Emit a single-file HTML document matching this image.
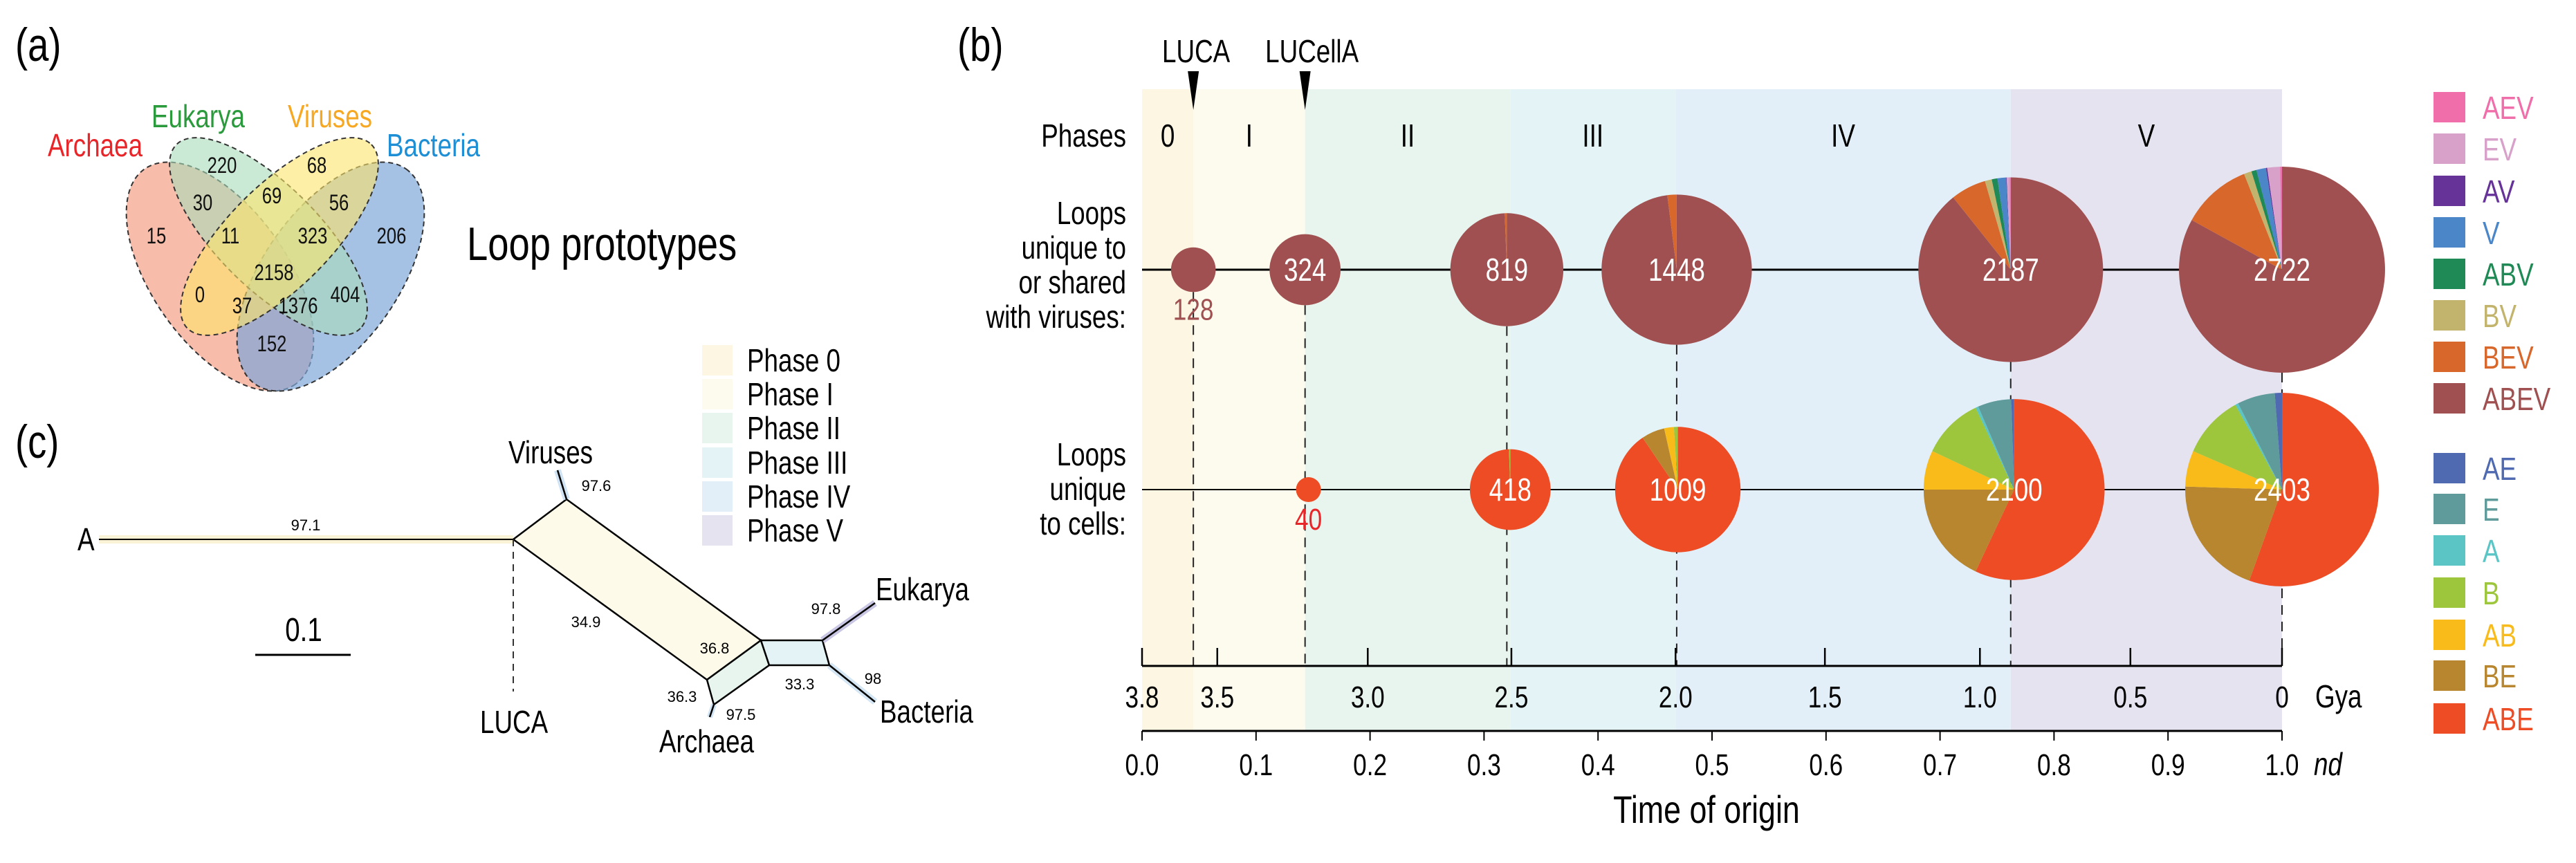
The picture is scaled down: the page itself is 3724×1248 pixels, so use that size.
<!DOCTYPE html>
<html><head><meta charset="utf-8"><style>
html,body{margin:0;padding:0;background:#fff;}
svg{display:block;}
text{font-family:"Liberation Sans Narrow","Liberation Sans",sans-serif;}
.serif{font-family:"Liberation Serif",serif;}
</style></head><body>
<svg id="fig" width="3724" height="1248" viewBox="0 0 3724 1248" xmlns="http://www.w3.org/2000/svg">
<text x="22" y="88" font-size="68">(a)</text>
<text x="1384" y="88" font-size="68">(b)</text>
<text x="22" y="662" font-size="68">(c)</text>

<g stroke="#333" stroke-width="2" stroke-dasharray="7,5">
 <ellipse cx="318" cy="400" rx="190" ry="98" transform="rotate(55 318 400)" fill="#f6a68d" fill-opacity="0.75"/>
 <ellipse cx="478" cy="400" rx="190" ry="98" transform="rotate(-55 478 400)" fill="#7fa7d9" fill-opacity="0.7"/>
 <ellipse cx="388" cy="342" rx="188" ry="74" transform="rotate(45 388 342)" fill="#a9dcb9" fill-opacity="0.6"/>
 <ellipse cx="404" cy="342" rx="188" ry="74" transform="rotate(-45 404 342)" fill="#fde56a" fill-opacity="0.6"/>
</g>
<g font-size="46">
 <text x="69" y="226" fill="#e8262a">Archaea</text>
 <text x="219" y="184" fill="#2a9a3d">Eukarya</text>
 <text x="416" y="184" fill="#f7a823">Viruses</text>
 <text x="559" y="226" fill="#1e8fd5">Bacteria</text>
</g>
<g font-size="32" text-anchor="middle" fill="#111">
 <text x="321" y="250">220</text><text x="458" y="250">68</text>
 <text x="293" y="304">30</text><text x="393" y="294">69</text><text x="490" y="304">56</text>
 <text x="226" y="352">15</text><text x="333" y="352">11</text><text x="452" y="352">323</text><text x="566" y="352">206</text>
 <text x="396" y="405">2158</text>
 <text x="289" y="437">0</text><text x="350" y="453">37</text><text x="431" y="453">1376</text><text x="499" y="437">404</text>
 <text x="393" y="508">152</text>
</g>
<text x="675" y="376" font-size="68">Loop prototypes</text>

<g font-size="46">
 <rect x="1015" y="499" width="44" height="44" fill="#fdf6e3"/><text x="1080" y="537">Phase 0</text>
 <rect x="1015" y="548" width="44" height="44" fill="#fdfbee"/><text x="1080" y="586">Phase I</text>
 <rect x="1015" y="597" width="44" height="44" fill="#e8f5ee"/><text x="1080" y="635">Phase II</text>
 <rect x="1015" y="647" width="44" height="44" fill="#e4f4f6"/><text x="1080" y="685">Phase III</text>
 <rect x="1015" y="696" width="44" height="44" fill="#e3eff8"/><text x="1080" y="734">Phase IV</text>
 <rect x="1015" y="745" width="44" height="44" fill="#e5e3f0"/><text x="1080" y="783">Phase V</text>
</g>

<g>
 <rect x="143" y="774" width="599" height="12" fill="#fbf3d6"/>
 <line x1="143" y1="780" x2="742" y2="780" stroke="#000" stroke-width="2"/>
 <text x="112" y="796" font-size="46">A</text>
 <polygon points="742,780 819,722 1100,926 1022,983" fill="#fdfaea" stroke="#000" stroke-width="2.5"/>
 <polygon points="1100,926 1112,962 1032,1019 1022,983" fill="#e8f5ee" stroke="#000" stroke-width="2.5"/>
 <polygon points="1100,926 1189,926 1199,962 1112,962" fill="#e3f3f6" stroke="#000" stroke-width="2.5"/>
 <line x1="742" y1="780" x2="742" y2="1000" stroke="#333" stroke-width="2" stroke-dasharray="10,8"/>
 <line x1="819" y1="722" x2="806" y2="680" stroke="#cfe3f4" stroke-width="10"/>
 <line x1="819" y1="722" x2="806" y2="680" stroke="#000" stroke-width="2.5"/>
 <line x1="1189" y1="926" x2="1265" y2="872" stroke="#c8c6e2" stroke-width="10"/>
 <line x1="1189" y1="926" x2="1265" y2="872" stroke="#000" stroke-width="2.5"/>
 <line x1="1199" y1="962" x2="1265" y2="1015" stroke="#d4e6f4" stroke-width="10"/>
 <line x1="1199" y1="962" x2="1265" y2="1015" stroke="#000" stroke-width="2.5"/>
 <line x1="1032" y1="1019" x2="1026" y2="1037" stroke="#cfe3f4" stroke-width="8"/>
 <line x1="1032" y1="1019" x2="1026" y2="1037" stroke="#000" stroke-width="2.5"/>
 <g font-size="46">
  <text x="735" y="670">Viruses</text>
  <text x="1266" y="868">Eukarya</text>
  <text x="1272" y="1045">Bacteria</text>
  <text x="953" y="1088">Archaea</text>
  <text x="694" y="1060">LUCA</text>
 </g>
 <g class="serif" font-size="22" text-anchor="middle">
  <text x="442" y="767">97.1</text><text x="862" y="710">97.6</text>
  <text x="847" y="907">34.9</text><text x="1033" y="945">36.8</text>
  <text x="986" y="1015">36.3</text><text x="1071" y="1041">97.5</text>
  <text x="1156" y="997">33.3</text><text x="1194" y="888">97.8</text>
  <text x="1262" y="989">98</text>
 </g>
 <text x="439" y="927" font-size="48" text-anchor="middle">0.1</text>
 <line x1="369" y1="947" x2="507" y2="947" stroke="#000" stroke-width="3"/>
</g>

<g id="panelb"></g>
</svg>
<script>
// ---- data ----
const phaseNames = ['0','I','II','III','IV','V'];
const phaseBounds = [0, 0.045, 0.143, 0.323, 0.468, 0.762, 1.0];
const phaseColors = ['#fdf6e3','#fdfbee','#e8f5ee','#e4f4f6','#e3eff8','#e5e3f0'];
const gyaTicks = [3.8, 3.5, 3.0, 2.5, 2.0, 1.5, 1.0, 0.5, 0];
// calibration of geological time to nd
const gyaCalib = [3.8, 3.5, 3.0, 2.5, 2.0, 1.5, 1.0, 0.5, 0];
const ndCalib = [0, 0.066, 0.198, 0.324, 0.468, 0.599, 0.735, 0.867, 1.0];
const ndTicks = [0.0,0.1,0.2,0.3,0.4,0.5,0.6,0.7,0.8,0.9,1.0];
const topTotals = [128, 324, 819, 1448, 2187, 2722];
const topTimes = [0.045, 0.143, 0.32, 0.469, 0.762, 1.0];
const topCats = ['ABEV','BEV','BV','ABV','V','AV','EV','AEV'];
const topColors = ['#a05050','#d8672b','#c3b46d','#1f8a55','#4a86c8','#663399','#d8a1c9','#f06ea9'];
const topFracs = [
 [1,0,0,0,0,0,0,0],
 [1,0,0,0,0,0,0,0],
 [0.994,0.006,0,0,0,0,0,0],
 [0.98,0.02,0,0,0,0,0,0],
 [0.893,0.062,0.012,0.01,0.015,0.001,0.005,0.002],
 [0.83,0.11,0.012,0.008,0.015,0.002,0.02,0.003]
];
const botTotals = [40, 418, 1009, 2100, 2403];
const botTimes = [0.146, 0.323, 0.47, 0.765, 1.0];
const botCats = ['ABE','BE','AB','B','A','E','AE'];
const botColors = ['#ee4c25','#b8862f','#f8bb1a','#9dc63c','#5bc5c5','#5f9b9b','#4f6ab0'];
const botFracs = [
 [1,0,0,0,0,0,0],
 [0.995,0,0,0.005,0,0,0],
 [0.905,0.06,0.025,0.01,0,0,0],
 [0.57,0.18,0.07,0.11,0.005,0.06,0.005],
 [0.555,0.2,0.06,0.105,0.005,0.063,0.012]
];
const legendTop = ['AEV','EV','AV','V','ABV','BV','BEV','ABEV'];
const legendTopColors = ['#f06ea9','#d8a1c9','#663399','#4a86c8','#1f8a55','#c3b46d','#d8672b','#a05050'];
const legendBot = ['AE','E','A','B','AB','BE','ABE'];
const legendBotColors = ['#4f6ab0','#5f9b9b','#5bc5c5','#9dc63c','#f8bb1a','#b8862f','#ee4c25'];

// ---- scales ----
const X0 = 1651, X1 = 3299;
const xnd = t => X0 + (X1 - X0) * t;
function gyaToNd(g) {
  for (let i = 0; i < gyaCalib.length - 1; i++) {
    if (g <= gyaCalib[i] && g >= gyaCalib[i+1]) {
      const f = (gyaCalib[i] - g) / (gyaCalib[i] - gyaCalib[i+1]);
      return ndCalib[i] + f * (ndCalib[i+1] - ndCalib[i]);
    }
  }
  return (3.8 - g) / 3.8;
}
const xgya = g => xnd(gyaToNd(g));
const rScale = n => 2.855 * Math.sqrt(n);
const yTop = 390, yBot = 708, yAxisG = 963, yAxisN = 1057;
const NS = 'http://www.w3.org/2000/svg';
const G = document.getElementById('panelb');
function mk(tag, attrs, parent) {
  const e = document.createElementNS(NS, tag);
  for (const k in attrs) e.setAttribute(k, attrs[k]);
  (parent || G).appendChild(e);
  return e;
}
function txt(x, y, s, size, extra, parent) {
  const e = mk('text', Object.assign({x: x, y: y, 'font-size': size}, extra || {}), parent);
  e.textContent = s;
  return e;
}
for (let i = 0; i < phaseNames.length; i++) {
  const r = mk('rect', {x: xnd(phaseBounds[i]), y: 129, width: xnd(phaseBounds[i+1]) - xnd(phaseBounds[i]), height: yAxisN - 129, fill: phaseColors[i]});
  
  
  const t = txt((xnd(phaseBounds[i]) + xnd(phaseBounds[i+1])) / 2, 212, phaseNames[i], 46, {'text-anchor': 'middle'});
  
  
}
const rl = [['Phases',212],['Loops',324],['unique to',374],['or shared',424],['with viruses:',474],['Loops',673],['unique',723],['to cells:',773]];
rl.forEach(a => {
  const t = txt(1628, a[1], a[0], 46, {'text-anchor': 'end'});
  
  
});
[['LUCA', 0.045], ['LUCellA', 0.143]].forEach(m => {
  const x = xnd(m[1]);
  const p = mk('polygon', {points: (x-8) + ',103 ' + (x+8) + ',103 ' + x + ',159', fill: '#000'});
  
  
  const t = txt(x + (m[0] === 'LUCA' ? 4 : 10), 90, m[0], 46, {'text-anchor': 'middle'});
  
  
});
mk('line', {x1: X0, y1: yTop, x2: X1, y2: yTop, stroke: '#000', 'stroke-width': 3});
mk('line', {x1: X0, y1: yBot, x2: X1, y2: yBot, stroke: '#000', 'stroke-width': 2});
topTimes.forEach((t, i) => {
  const x = xnd(t);
  const l = mk('line', {x1: x, y1: yTop + rScale(topTotals[i]), x2: x, y2: yAxisG, stroke: '#222', 'stroke-width': 2, 'stroke-dasharray': '14,10'});
  
  
});
function pie(cx, cy, r, fracs, colors, cats, name) {
  const g = mk('g', {});
  
  
  let a = -Math.PI / 2;
  fracs.forEach((f, k) => {
    if (f <= 0) return;
    if (f >= 0.9999) { mk('circle', {cx: cx, cy: cy, r: r, fill: colors[k]}, g); return; }
    const b = a + f * 2 * Math.PI;
    const large = f > 0.5 ? 1 : 0;
    const d = 'M' + cx + ',' + cy + ' L' + (cx + r*Math.cos(a)) + ',' + (cy + r*Math.sin(a)) +
      ' A' + r + ',' + r + ' 0 ' + large + ' 1 ' + (cx + r*Math.cos(b)) + ',' + (cy + r*Math.sin(b)) + ' Z';
    const p = mk('path', {d: d, fill: colors[k]}, g);
    
    
    a = b;
  });
}
topTotals.forEach((n, i) => {
  const x = xnd(topTimes[i]), r = rScale(n);
  pie(x, yTop, r, topFracs[i], topColors, topCats, 'virus-pie-' + n);
  if (r > 45) { const t = txt(x, yTop + 16, String(n), 46, {'text-anchor': 'middle', fill: '#fff'});   }
  else { const t = txt(x, yTop + r + 40, String(n), 44, {'text-anchor': 'middle', fill: '#a05050'});   }
});
botTotals.forEach((n, i) => {
  const x = xnd(botTimes[i]), r = rScale(n);
  pie(x, yBot, r, botFracs[i], botColors, botCats, 'cell-pie-' + n);
  if (r > 45) { const t = txt(x, yBot + 16, String(n), 46, {'text-anchor': 'middle', fill: '#fff'});   }
  else { const t = txt(x, yBot + r + 40, String(n), 44, {'text-anchor': 'middle', fill: '#e8262a'});   }
});
const ga = mk('g', {});


mk('line', {x1: X0, y1: yAxisG, x2: X1, y2: yAxisG, stroke: '#000', 'stroke-width': 3}, ga);
gyaTicks.forEach(g => {
  const x = xgya(g);
  mk('line', {x1: x, y1: yAxisG, x2: x, y2: yAxisG - 26, stroke: '#000', 'stroke-width': 2.5}, ga);
  txt(x, yAxisG + 60, g === 0 ? '0' : g.toFixed(1), 44, {'text-anchor': 'middle'}, ga);
});
txt(3347, yAxisG + 60, 'Gya', 46, {}, ga);
const na = mk('g', {});


mk('line', {x1: X0, y1: yAxisN, x2: X1, y2: yAxisN, stroke: '#000', 'stroke-width': 3}, na);
ndTicks.forEach(t => {
  const x = xnd(t);
  mk('line', {x1: x, y1: yAxisN, x2: x, y2: yAxisN + 14, stroke: '#000', 'stroke-width': 2}, na);
  txt(x, yAxisN + 64, t.toFixed(1), 44, {'text-anchor': 'middle'}, na);
});
txt(3345, yAxisN + 64, 'nd', 46, {'font-style': 'italic'}, na);
const xt = txt(2467, 1190, 'Time of origin', 56, {'text-anchor': 'middle'});


const lg = mk('g', {});


const topY = [155,215,276,336,396,456,516,576];
const botY = [677,736,796,857,918,977,1039];
legendTop.forEach((c, i) => {
  const e = mk('g', {}, lg);
  
  
  mk('rect', {x: 3518, y: topY[i] - 22, width: 46, height: 44, fill: legendTopColors[i]}, e);
  txt(3589, topY[i] + 17, c, 46, {fill: legendTopColors[i]}, e);
});
legendBot.forEach((c, i) => {
  const e = mk('g', {}, lg);
  
  
  mk('rect', {x: 3518, y: botY[i] - 22, width: 46, height: 44, fill: legendBotColors[i]}, e);
  txt(3589, botY[i] + 17, c, 46, {fill: legendBotColors[i]}, e);
});
// condense sans text to mimic a condensed typeface
document.querySelectorAll('#fig text').forEach(t => {
  if (t.closest('.serif')) return;
  const w = t.getComputedTextLength();
  if (w > 0) {
    t.setAttribute('textLength', (w * 0.8).toFixed(1));
    t.setAttribute('lengthAdjust', 'spacingAndGlyphs');
  }
});
</script>
</body></html>
